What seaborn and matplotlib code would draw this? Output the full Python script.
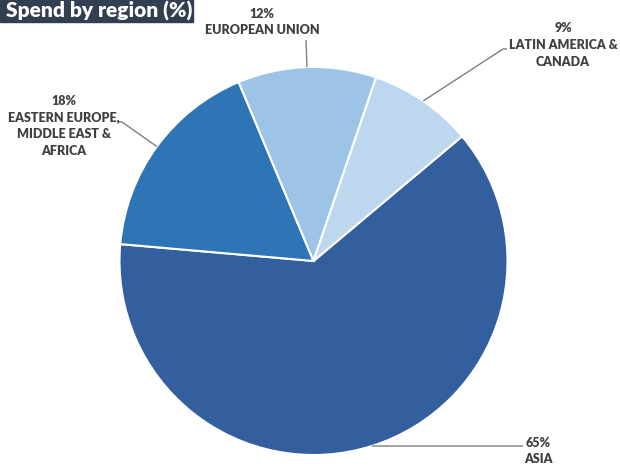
import numpy as np
import matplotlib
matplotlib.use("Agg")
import matplotlib.pyplot as plt
import seaborn as sns
from matplotlib.patches import Rectangle

# data
regions = ["ASIA", "EASTERN EUROPE,\nMIDDLE EAST &\nAFRICA", "EUROPEAN UNION", "LATIN AMERICA &\nCANADA"]
spend_pct = [65, 18, 12, 9]
colors = ["#335F9F", "#2E75B6", "#9DC3E6", "#BDD7EE"]

sns.set_theme(style="white")
plt.rcParams["font.family"] = ["Lato", "DejaVu Sans"]

W, H = 620, 468
fig = plt.figure(figsize=(W / 100, H / 100), dpi=100)
ax = fig.add_axes([0, 0, 1, 1])

cx, cy, r = 313.5, H - 261, 194
wedges, _ = ax.pie(spend_pct, colors=colors, startangle=40, counterclock=False,
                   radius=r, center=(cx, cy), frame=True,
                   wedgeprops=dict(edgecolor="white", linewidth=1.5))
ax.set_xlim(0, W)
ax.set_ylim(0, H)
ax.set_aspect("auto")
ax.axis("off")

# label block centres and leader paths (pixel coords, y from top)
label_pos = [(538, 451), (64, 126), (262, 22), (563, 45)]
leader_pts = [[(523, 446)], [(122, 122), (119, 122)], [(306, 40)], [(503, 49), (507, 49)]]

for w, name, val, (lx, ly), pts in zip(wedges, regions, spend_pct, label_pos, leader_pts):
    mid = np.deg2rad((w.theta1 + w.theta2) / 2)
    x0, y0 = cx + r * np.cos(mid), cy + r * np.sin(mid)
    xs = [x0] + [p[0] for p in pts]
    ys = [y0] + [H - p[1] for p in pts]
    ax.plot(xs, ys, color="#7F7F7F", lw=1.0, solid_capstyle="butt")
    ax.text(lx, H - ly, f"{val}%\n{name}", ha="center", va="center",
            fontsize=9, fontweight="heavy", color="#404040", linespacing=1.45)

# title banner
ax.add_patch(Rectangle((0, H - 22), 193, 22, color="#323F51", zorder=5))
ax.text(6, H - 17.5, "Spend by region (%)", ha="left", va="baseline",
        fontsize=15, fontweight="heavy", color="white", zorder=6)

fig.savefig("out.png", dpi=100)
